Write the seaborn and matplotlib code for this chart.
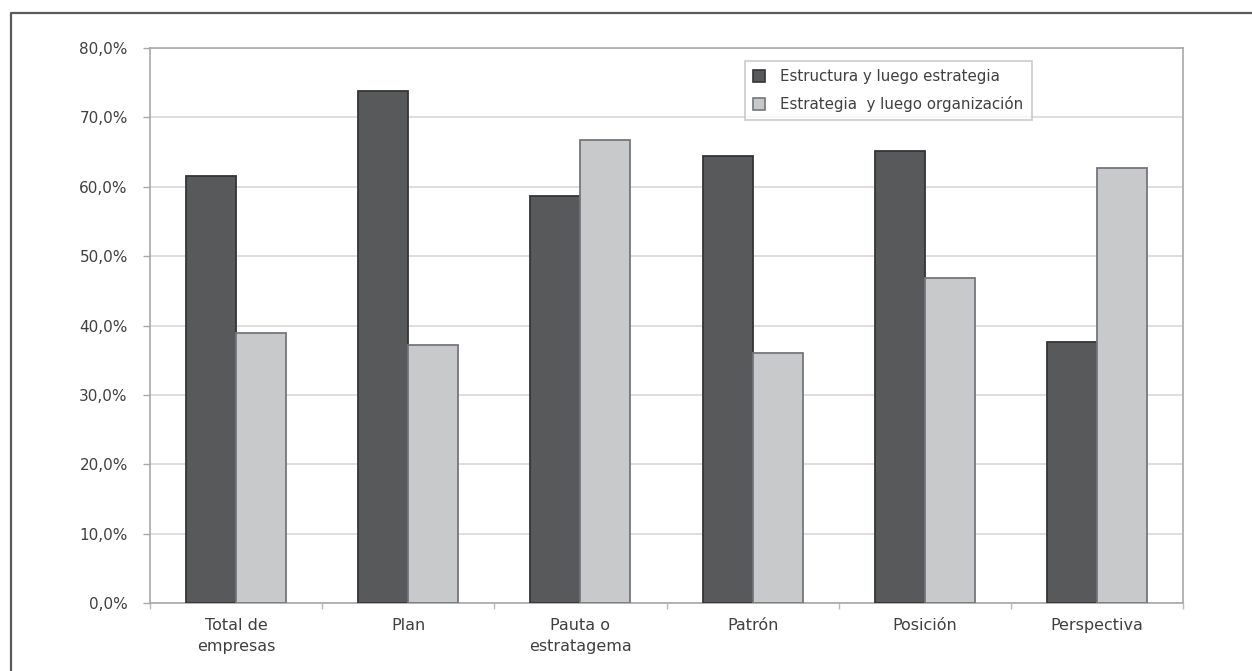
import matplotlib
matplotlib.use("Agg")
import matplotlib.pyplot as plt
from matplotlib.lines import Line2D
from matplotlib.ticker import FuncFormatter, MultipleLocator, FixedLocator
import numpy as np
import pandas as pd
import seaborn as sns

# Categories (x axis) and the two series, in percent
categories = ["Total de\nempresas", "Plan", "Pauta o\nestratagema",
              "Patrón", "Posición", "Perspectiva"]
series_names = ["Estructura y luego estrategia",
                "Estrategia  y luego organización"]
estructura_estrategia = [61.6, 73.8, 58.6, 64.4, 65.2, 37.6]
estrategia_organizacion = [38.9, 37.2, 66.8, 36.1, 46.9, 62.7]

df = pd.DataFrame({
    "categoria": categories * 2,
    "serie": [series_names[0]] * len(categories) + [series_names[1]] * len(categories),
    "valor": estructura_estrategia + estrategia_organizacion,
})

sns.set_theme(style="white")
plt.rcParams["font.family"] = ["DejaVu Sans"]

text_color = "#404040"
fill_colors = ["#58595b", "#c8c9cb"]
edge_colors = ["#353537", "#76767a"]

fig = plt.figure(figsize=(12.52, 6.71), dpi=100)
ax = fig.add_axes([150 / 1252, 1 - 603 / 671, (1183 - 150) / 1252, (603 - 48) / 671])

sns.barplot(data=df, x="categoria", y="valor", hue="serie", order=categories,
            hue_order=series_names, palette=fill_colors, width=0.58,
            saturation=1, ax=ax, legend=True, zorder=3)

for container, ec in zip(ax.containers, edge_colors):
    for bar in container:
        bar.set_edgecolor(ec)
        bar.set_linewidth(1.3)

# Axes, grid and ticks
ax.set_ylim(0, 80)
ax.set_xlim(-0.5, len(categories) - 0.5)
ax.yaxis.set_major_locator(MultipleLocator(10))
ax.yaxis.set_major_formatter(FuncFormatter(lambda v, _: f"{v:.1f}".replace(".", ",") + "%"))
ax.grid(axis="y", color="#d8d8d8", linewidth=1.2, zorder=0)
ax.set_axisbelow(True)
for side in ["left", "bottom", "right", "top"]:
    ax.spines[side].set_visible(True)
    ax.spines[side].set_color("#a8a8a8")
    ax.spines[side].set_linewidth(1.2)

ax.set_xlabel("")
ax.set_ylabel("")
ax.tick_params(axis="y", which="major", length=5, width=1, color="#a8a8a8",
               labelsize=11, labelcolor=text_color, pad=11, left=True)
ax.tick_params(axis="x", which="major", length=0, labelsize=11.5,
               labelcolor=text_color, pad=11)
for lbl in ax.get_xticklabels():
    lbl.set_linespacing(1.45)
ax.xaxis.set_minor_locator(FixedLocator(np.arange(-0.5, len(categories), 1.0)))
ax.tick_params(axis="x", which="minor", length=4, width=1, color="#b8b8b8", bottom=True)

# Legend
leg = ax.legend(loc="upper left", bbox_to_anchor=(0.576, 0.977), frameon=True,
                fancybox=False, edgecolor="#bdbdbd", fontsize=10.8,
                handlelength=0.8, handleheight=0.8, handletextpad=1.0,
                labelspacing=0.8, borderpad=0.55, borderaxespad=0)
leg.get_frame().set_linewidth(1.2)
for t in leg.get_texts():
    t.set_color(text_color)
for h, ec in zip(leg.legend_handles, edge_colors):
    h.set_edgecolor(ec)
    h.set_linewidth(1.2)

# Outer page frame (left and top edges)
fig.add_artist(Line2D([11 / 1252, 11 / 1252, 1.0], [0.0, 1 - 13 / 671, 1 - 13 / 671],
                      transform=fig.transFigure, color="#5a5a5a", linewidth=1.6))

fig.savefig("out.png", dpi=100)
